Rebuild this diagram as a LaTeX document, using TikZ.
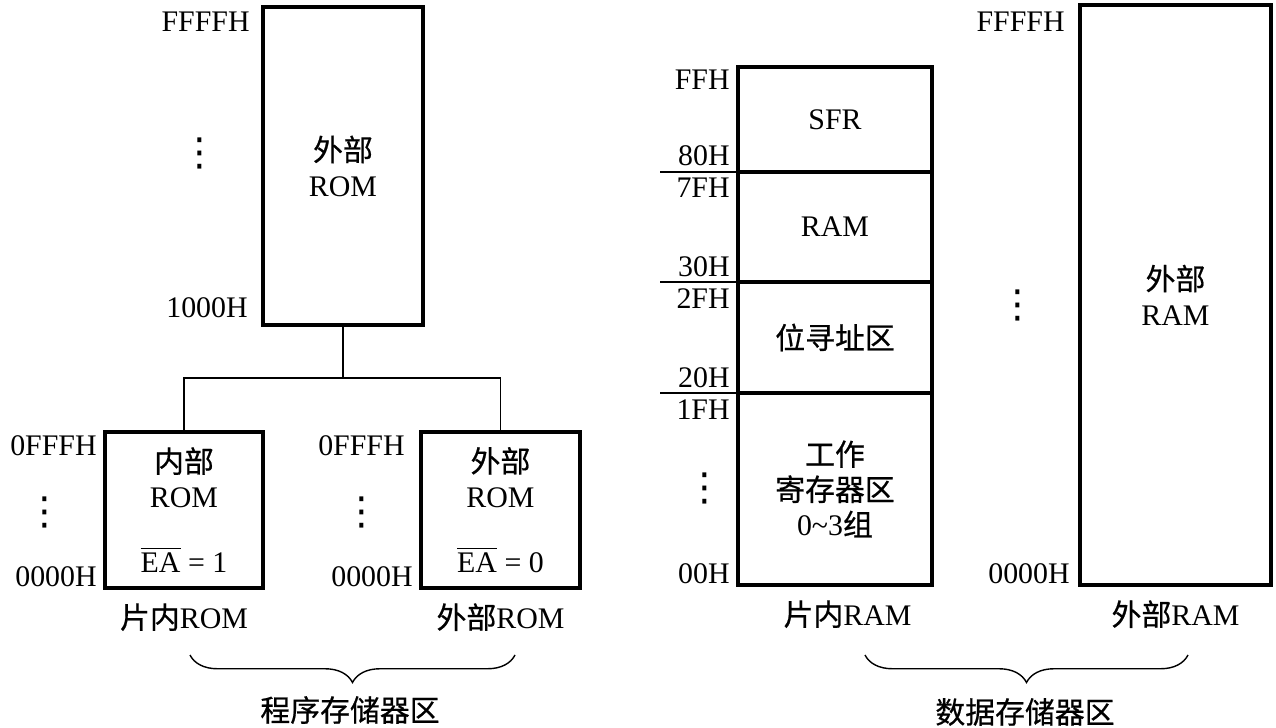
\documentclass[tikz,border=0pt]{standalone}
\usepackage{amsmath}
\usepackage{fontspec}
\setmainfont{Liberation Serif}
\newfontfamily\cjk[FakeBold=0.6]{Noto Sans CJK SC}
\newfontfamily\sym{DejaVu Sans}
\usetikzlibrary{positioning,decorations.pathreplacing}
\newcommand\lbl{\fontsize{17pt}{20pt}\selectfont}
\newcommand\vdotz{{\sym\fontsize{22pt}{22pt}\selectfont ⋮}}

\begin{document}
\begin{tikzpicture}[
  mem/.style={draw,line width=2pt,inner sep=0pt,outer sep=0pt,align=center,font=\lbl},
  addr/.style={inner sep=0pt,font=\lbl},
  tag/.style={inner sep=0pt,font=\lbl},
  wire/.style={line width=0.7pt},
  brc/.style={line width=0.8pt,decorate,decoration={brace,mirror,amplitude=0.55cm}}]
\useasboundingbox (0,0) rectangle (25.52,-14.56);

% program memory
\node[mem,minimum width=3.2cm,minimum height=6.36cm] (romhi) at (6.86,-3.32) {{\cjk 外部}\\ROM};
\node[mem,minimum width=3.16cm,minimum height=3.12cm] (romin) at (3.68,-10.2) {{\cjk 内部}\\ROM\\[0.6cm]$\overline{\text{EA}}$ = 1};
\node[mem,minimum width=3.18cm,minimum height=3.12cm] (romex) at (10.01,-10.2) {{\cjk 外部}\\ROM\\[0.6cm]$\overline{\text{EA}}$ = 0};

\node[addr,anchor=north east] (romhitop) at ([shift={(-0.26,-0.1)}]romhi.north west) {FFFFH};
\node[addr,anchor=south east] (romhibot) at ([shift={(-0.3,0.14)}]romhi.south west) {1000H};
\node[addr] (romhidots) at (4.0,-3.06) {\vdotz};

\node[addr,anchor=north east] (romintop) at ([shift={(-0.16,-0.06)}]romin.north west) {0FFFH};
\node[addr,anchor=south east] (rominbot) at ([shift={(-0.16,0.02)}]romin.south west) {0000H};
\node[addr] (romindots) at (0.9,-10.24) {\vdotz};

\node[addr,anchor=north east] (romextop) at ([shift={(-0.32,-0.06)}]romex.north west) {0FFFH};
\node[addr,anchor=south east] (romexbot) at ([shift={(-0.16,0.02)}]romex.south west) {0000H};
\node[addr] (romexdots) at (7.24,-10.24) {\vdotz};

\coordinate (jn) at (6.86,-7.56);
\draw[wire] (romhi.south) -- (jn);
\draw[wire] (romin.north) |- (jn) -| (romex.north);

\node[tag,below=0.3cm of romin] (rominname) {{\cjk 片内}ROM};
\node[tag,below=0.3cm of romex] (romexname) {{\cjk 外部}ROM};

% data memory
\node[mem,minimum width=3.88cm,minimum height=2.1cm] (sfr) at (16.7,-2.39) {SFR};
\node[mem,minimum width=3.88cm,minimum height=2.2cm,below=0pt of sfr] (uram) {RAM};
\node[mem,minimum width=3.88cm,minimum height=2.22cm,below=0pt of uram] (bitr) {\cjk 位寻址区};
\node[mem,minimum width=3.88cm,minimum height=3.84cm,below=0pt of bitr] (wreg) {{\cjk 工作}\\{\cjk 寄存器区}\\0\textasciitilde3{\cjk 组}};
\node[mem,minimum width=3.82cm,minimum height=11.6cm] (xram) at (23.51,-5.9) {{\cjk 外部}\\RAM};

\node[addr,anchor=north east] (sfrtop) at ([shift={(-0.16,-0.06)}]sfr.north west) {FFH};
\node[addr,anchor=south east] (sfrbot) at ([shift={(-0.16,0.12)}]sfr.south west) {80H};
\node[addr,anchor=north east] (uramtop) at ([shift={(-0.16,-0.12)}]uram.north west) {7FH};
\node[addr,anchor=south east] (urambot) at ([shift={(-0.16,0.1)}]uram.south west) {30H};
\node[addr,anchor=north east] (bitrtop) at ([shift={(-0.16,-0.12)}]bitr.north west) {2FH};
\node[addr,anchor=south east] (bitrbot) at ([shift={(-0.16,0.1)}]bitr.south west) {20H};
\node[addr,anchor=north east] (wregtop) at ([shift={(-0.16,-0.12)}]wreg.north west) {1FH};
\node[addr,anchor=south east] (wregbot) at ([shift={(-0.16,0.02)}]wreg.south west) {00H};
\node[addr] (wregdots) at (14.1,-9.76) {\vdotz};
\draw[wire] (sfr.south west) -- ++(-1.56,0);
\draw[wire] (uram.south west) -- ++(-1.56,0);
\draw[wire] (bitr.south west) -- ++(-1.56,0);

\node[addr,anchor=north east] (xramtop) at ([shift={(-0.3,-0.14)}]xram.north west) {FFFFH};
\node[addr,anchor=south east] (xrambot) at ([shift={(-0.2,0.02)}]xram.south west) {0000H};
\node[addr] (xramdots) at (20.36,-6.1) {\vdotz};

\node[tag,below=0.3cm of wreg,xshift=0.25cm] (wregname) {{\cjk 片内}RAM};
\node[tag,below=0.3cm of xram] (xramname) {{\cjk 外部}RAM};

% braces
\coordinate (pl) at (3.8,-13.1);
\coordinate (pr) at (10.3,-13.1);
\draw[brc] (pl) -- (pr);
\node[tag] (prog) at (7.0,-14.2) {\cjk 程序存储器区};
\coordinate (ql) at (17.3,-13.1);
\coordinate (qr) at (23.76,-13.1);
\draw[brc] (ql) -- (qr);
\node[tag] (data) at (20.5,-14.24) {\cjk 数据存储器区};
\end{tikzpicture}
\end{document}
